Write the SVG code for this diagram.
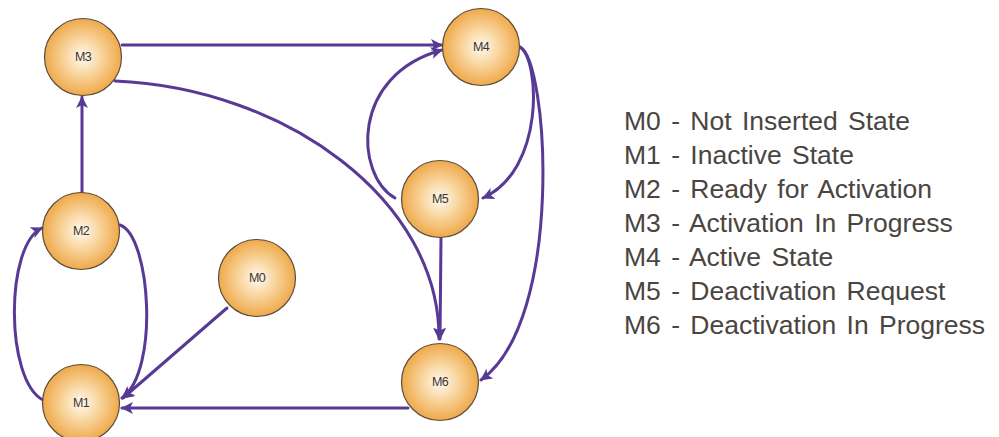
<svg xmlns="http://www.w3.org/2000/svg" width="999" height="437" viewBox="0 0 999 437">
<style>
.node circle{fill:url(#g);stroke:#5a4c3c;stroke-width:1.2}
.node text{font-family:"Liberation Sans",Arial,sans-serif;font-size:12.5px;fill:#3a3530;text-anchor:middle;letter-spacing:-0.8px}
.edge{fill:none;stroke:#583a96;stroke-width:3;stroke-linecap:round}
.arr{marker-end:url(#ah)}
.legend{font-family:"Liberation Sans",Arial,sans-serif;font-size:26.5px;fill:#4a4540;word-spacing:3px}
</style>
<defs>
<radialGradient id="g" cx="0.5" cy="0.5" r="0.5">
<stop offset="0" stop-color="#fefaf3"/>
<stop offset="0.45" stop-color="#f9d7a2"/>
<stop offset="1" stop-color="#efa94a"/>
</radialGradient>
<marker id="ah" markerUnits="userSpaceOnUse" markerWidth="14" markerHeight="12" refX="11" refY="6" orient="auto">
<path d="M0,0 L12,6 L0,12 L3,6 Z" fill="#583a96"/>
</marker>
</defs>
<rect width="999" height="437" fill="#ffffff"/>
<g id="connectors">
<path class="edge arr" d="M122,45 L442,45"/>
<path class="edge arr" d="M115,81 C285,88 440,200 439,339"/>
<path class="edge arr" d="M82,193 L82,97"/>
<path class="edge arr" d="M43,400 C5,380 5,245 42,228"/>
<path class="edge arr" d="M120,225 C150,235 160,370 122,398"/>
<path class="edge arr" d="M227,308 L123,398"/>
<path class="edge arr" d="M408,408 L122,408"/>
<path class="edge arr" d="M395,198 C355,175 350,75 442,50"/>
<path class="edge arr" d="M520,47 C540,60 545,170 483,198"/>
<path class="edge arr" d="M520,47 C548,60 565,320 481,380"/>
<path class="edge arr" d="M441,238 L440,339"/>
</g>
<g id="M3" class="node"><circle cx="83" cy="57" r="38.5"/><text x="83" y="61">M3</text></g>
<g id="M4" class="node"><circle cx="481" cy="47" r="38.5"/><text x="481" y="51">M4</text></g>
<g id="M5" class="node"><circle cx="440" cy="199" r="38.5"/><text x="440" y="203">M5</text></g>
<g id="M2" class="node"><circle cx="81" cy="231" r="38.5"/><text x="81" y="235">M2</text></g>
<g id="M0" class="node"><circle cx="257" cy="278" r="38.5"/><text x="257" y="282">M0</text></g>
<g id="M6" class="node"><circle cx="440" cy="382" r="38.5"/><text x="440" y="386">M6</text></g>
<g id="M1" class="node"><circle cx="81" cy="403" r="38.5"/><text x="81" y="407">M1</text></g>
<g id="legend" class="legend">
<text x="624" y="130">M0 - Not Inserted State</text>
<text x="624" y="164">M1 - Inactive State</text>
<text x="624" y="198">M2 - Ready for Activation</text>
<text x="624" y="232">M3 - Activation In Progress</text>
<text x="624" y="266">M4 - Active State</text>
<text x="624" y="300">M5 - Deactivation Request</text>
<text x="624" y="334">M6 - Deactivation In Progress</text>
</g>
</svg>
